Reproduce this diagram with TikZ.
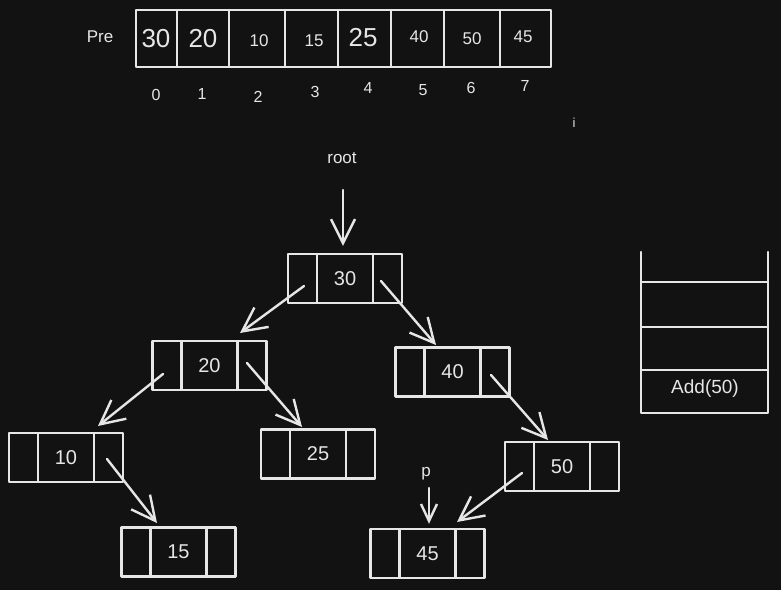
\documentclass[tikz,border=0pt]{standalone}
\usepackage{fontspec}
\setmainfont{Liberation Sans}
\usetikzlibrary{arrows.meta,calc}
\definecolor{bgc}{HTML}{121212}
\definecolor{ink}{HTML}{E6E6E6}
\begin{document}
\begin{tikzpicture}[x=1pt,y=-1pt,
  every node/.style={text=ink},
  stroke/.style={draw=ink,line width=2.4pt,line cap=round,line join=round},
  treenode/.style={stroke,minimum width=114pt,minimum height=49pt,inner sep=0pt,font=\fontsize{20}{20}\selectfont,
    path picture={\draw[ink,line width=2.4pt]
      ([xshift=-28pt]path picture bounding box.north) -- ([xshift=-28pt]path picture bounding box.south)
      ([xshift=28pt]path picture bounding box.north) -- ([xshift=28pt]path picture bounding box.south);}},
  arr/.style={stroke,-{Straight Barb[length=24pt,width=24pt]}},
  sarr/.style={stroke,-{Straight Barb[length=17pt,width=16pt]}},
  big/.style={font=\fontsize{26}{26}\selectfont},
  small/.style={font=\fontsize{17}{17}\selectfont},
  idx/.style={font=\fontsize{16}{16}\selectfont},
  lbl/.style={font=\fontsize{17}{17}\selectfont}
]
\fill[bgc] (0,0) rectangle (781,590);
\useasboundingbox (0,0) rectangle (781,590);

% array
\node[lbl] (pre) at (100,37) {Pre};
\draw[stroke] (136,10) rectangle (551,67);
\foreach \x in {177,229,285,338,391,444,500} \draw[stroke] (\x,10) -- (\x,67);
\node[big] (a0) at (156,39) {30};
\node[big] (a1) at (203,39) {20};
\node[small] (a2) at (259,41) {10};
\node[small] (a3) at (314,41) {15};
\node[big] (a4) at (363,38) {25};
\node[small] (a5) at (419,37) {40};
\node[small] (a6) at (472,39) {50};
\node[small] (a7) at (523,37) {45};
\node[idx] (i0) at (156,95) {0};
\node[idx] (i1) at (202,94) {1};
\node[idx] (i2) at (258,97) {2};
\node[idx] (i3) at (315,92) {3};
\node[idx] (i4) at (368,88) {4};
\node[idx] (i5) at (423,90) {5};
\node[idx] (i6) at (471,88) {6};
\node[idx] (i7) at (525,86) {7};
\node[font=\fontsize{13}{13}\selectfont] (iv) at (574,123) {i};

% tree
\node[lbl] (root) at (342,158) {root};
\node[treenode] (n30) at (345,278.5) {30};
\node[treenode] (n20) at (209.5,365.5) {20};
\node[treenode] (n40) at (452.5,372) {40};
\node[treenode] (n10) at (66,457.5) {10};
\node[treenode] (n25) at (318,454) {25};
\node[treenode] (n50) at (562,466.5) {50};
\node[treenode] (n15) at (178.5,552) {15};
\node[treenode] (n45) at (427.5,553.5) {45};
\node[lbl] (p) at (426,474) {p};

\draw[arr] ($(root.center)+(1,32)$) -- ($(n30.north)+(-2,-7)$);
\draw[arr] ($(n30.center)+(-41,7.5)$) -- ($(n20.center)+(30.5,-32.5)$);
\draw[arr] ($(n30.center)+(36,2.5)$) -- ($(n40.center)+(-16.5,-27)$);
\draw[arr] ($(n20.center)+(-46.5,8.5)$) -- ($(n10.center)+(32,-31.5)$);
\draw[arr] ($(n20.center)+(37.5,-2.5)$) -- ($(n25.center)+(-16,-27)$);
\draw[arr] ($(n10.center)+(41,1.5)$) -- ($(n15.center)+(-21.5,-29)$);
\draw[arr] ($(n40.center)+(38.5,3)$) -- ($(n50.center)+(-14,-26.5)$);
\draw[arr] ($(n50.center)+(-40,6.5)$) -- ($(n45.center)+(29.5,-31.5)$);
\draw[sarr] ($(p.center)+(3,14)$) -- ($(n45.north)+(1.5,-4)$);

% stack
\draw[stroke] (641,252) -- (641,413) -- (768,413) -- (768,252);
\foreach \y in {282,327,370} \draw[stroke] (641,\y) -- (768,\y);
\node[font=\fontsize{19}{19}\selectfont] (add) at (705,389) {Add(50)};
\end{tikzpicture}
\end{document}
